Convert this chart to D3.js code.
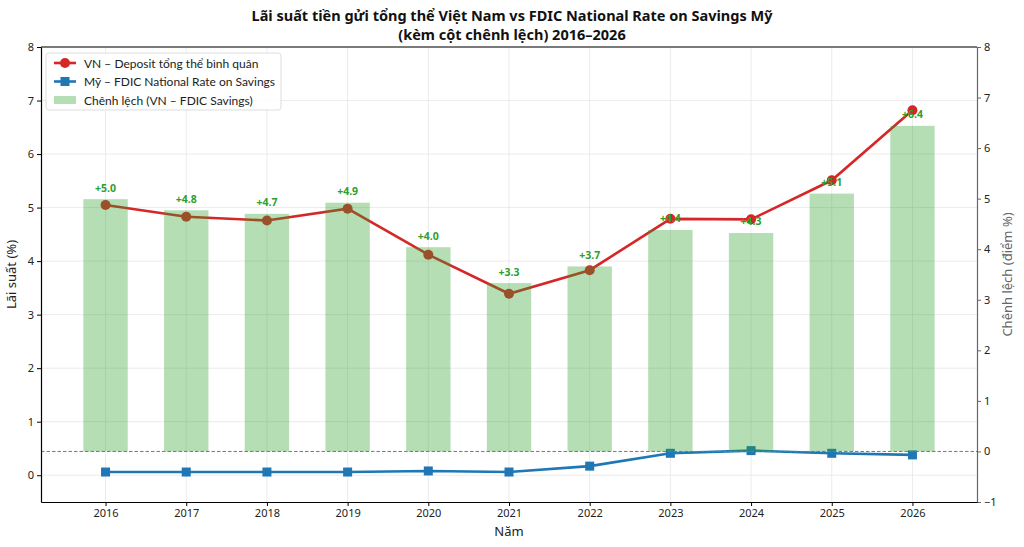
<!DOCTYPE html>
<html>
<head>
  <meta charset="UTF-8">
  <title>Lãi suất tiền gửi VN vs FDIC</title>
  <script src="https://d3js.org/d3.v7.min.js"></script>
  <style>
    body { margin: 0; background: #fff; }
    text { font-family: "Noto Sans", sans-serif; }
  </style>
</head>
<body>
  <div id="chart"></div>

  <script>
    const years = [2016, 2017, 2018, 2019, 2020, 2021, 2022, 2023, 2024, 2025, 2026];
    const vnRate = [5.05, 4.83, 4.76, 4.98, 4.12, 3.39, 3.83, 4.79, 4.78, 5.51, 6.82];
    const usRate = [0.06, 0.06, 0.06, 0.06, 0.08, 0.06, 0.17, 0.41, 0.46, 0.41, 0.38];
    const spread = [4.99, 4.77, 4.70, 4.92, 4.04, 3.33, 3.66, 4.38, 4.32, 5.10, 6.44];
    const leftTicks = [0, 1, 2, 3, 4, 5, 6, 7, 8];
    const rightTicks = [-1, 0, 1, 2, 3, 4, 5, 6, 7, 8];

    const W = 1024, H = 547;
    const margin = { top: 47, right: 47, bottom: 45, left: 41 };
    const width = W - margin.left - margin.right;
    const height = H - margin.top - margin.bottom;

    const svg = d3.select("#chart")
      .append("svg")
      .attr("width", W)
      .attr("height", H);

    const g = svg.append("g")
      .attr("transform", "translate(" + margin.left + "," + margin.top + ")");

    const x = d3.scaleLinear()
      .domain([2015.2, 2026.8])
      .range([0, width]);

    const y = d3.scaleLinear()
      .domain([-0.5, 8])
      .range([height, 0]);

    const y2 = d3.scaleLinear()
      .domain([-1, 8])
      .range([height, 0]);

    // grid
    g.append("g")
      .selectAll("line")
      .data(years)
      .join("line")
      .attr("x1", d => x(d)).attr("x2", d => x(d))
      .attr("y1", 0).attr("y2", height)
      .attr("stroke", "#e6e6e6").attr("stroke-width", 0.8);

    g.append("g")
      .selectAll("line")
      .data(leftTicks)
      .join("line")
      .attr("x1", 0).attr("x2", width)
      .attr("y1", d => y(d)).attr("y2", d => y(d))
      .attr("stroke", "#e6e6e6").attr("stroke-width", 0.8);

    // VN line
    const line = d3.line().x((d, i) => x(years[i])).y(d => y(d));
    g.append("path")
      .datum(vnRate)
      .attr("d", line)
      .attr("fill", "none")
      .attr("stroke", "#d62728")
      .attr("stroke-width", 2.6);

    g.selectAll(".vn-dot")
      .data(vnRate)
      .join("circle")
      .attr("class", "vn-dot")
      .attr("cx", (d, i) => x(years[i]))
      .attr("cy", d => y(d))
      .attr("r", 5)
      .attr("fill", "#d62728");

    // US line
    g.append("path")
      .datum(usRate)
      .attr("d", line)
      .attr("fill", "none")
      .attr("stroke", "#1f77b4")
      .attr("stroke-width", 2.6);

    g.selectAll(".us-dot")
      .data(usRate)
      .join("rect")
      .attr("class", "us-dot")
      .attr("x", (d, i) => x(years[i]) - 4.5)
      .attr("y", d => y(d) - 4.5)
      .attr("width", 9)
      .attr("height", 9)
      .attr("fill", "#1f77b4");

    // spread bars (drawn on top, semi-transparent)
    const barW = x(2016.55) - x(2016);
    g.selectAll(".bar")
      .data(spread)
      .join("rect")
      .attr("class", "bar")
      .attr("x", (d, i) => x(years[i]) - barW / 2)
      .attr("y", d => y2(d))
      .attr("width", barW)
      .attr("height", d => y2(0) - y2(d))
      .attr("fill", "#2ca02c")
      .attr("fill-opacity", 0.35);

    g.selectAll(".bar-label")
      .data(spread)
      .join("text")
      .attr("class", "bar-label")
      .attr("x", (d, i) => x(years[i]))
      .attr("y", d => y2(d + 0.15))
      .attr("text-anchor", "middle")
      .style("font-size", "10.5px")
      .style("font-weight", "bold")
      .attr("fill", "#2ca02c")
      .text(d => "+" + d.toFixed(1));

    g.append("line")
      .attr("x1", 0).attr("x2", width)
      .attr("y1", y2(0)).attr("y2", y2(0))
      .attr("stroke", "#777")
      .attr("stroke-width", 1)
      .attr("stroke-dasharray", "3.5,2");

    // axes
    const axL = g.append("g")
      .call(d3.axisLeft(y).tickValues(leftTicks).tickFormat(d3.format("d")).tickSize(4).tickSizeOuter(0));
    const axR = g.append("g")
      .attr("transform", "translate(" + width + ",0)")
      .call(d3.axisRight(y2).tickValues(rightTicks).tickFormat(d => d < 0 ? "\u2212" + Math.abs(d) : d).tickSize(4).tickSizeOuter(0));
    const axB = g.append("g")
      .attr("transform", "translate(0," + height + ")")
      .call(d3.axisBottom(x).tickValues(years).tickFormat(d3.format("d")).tickSize(4).tickSizeOuter(0));
    g.append("line")
      .attr("x1", 0).attr("x2", width)
      .attr("y1", 0).attr("y2", 0)
      .attr("stroke", "#000");

    [axL, axB].forEach(a => {
      a.selectAll("text").style("font-size", "11px").attr("fill", "#222");
      a.select(".domain").attr("stroke", "#000").attr("stroke-width", 1.2);
    });
    axR.selectAll("text").style("font-size", "11px").attr("fill", "#222");
    axR.select(".domain").attr("stroke", "#666").attr("stroke-width", 1.2);
    axR.selectAll(".tick line").attr("stroke", "#666");

    // axis titles
    svg.append("text")
      .attr("transform", "translate(16," + (margin.top + height / 2) + ") rotate(-90)")
      .attr("text-anchor", "middle")
      .style("font-size", "13px")
      .attr("fill", "#222")
      .text("Lãi suất (%)");

    svg.append("text")
      .attr("transform", "translate(1012," + (margin.top + height / 2) + ") rotate(-90)")
      .attr("text-anchor", "middle")
      .style("font-size", "13px")
      .attr("fill", "#666")
      .text("Chênh lệch (điểm %)");

    svg.append("text")
      .attr("x", margin.left + width / 2)
      .attr("y", 536)
      .attr("text-anchor", "middle")
      .style("font-size", "13px")
      .attr("fill", "#222")
      .text("Năm");

    // title
    const title = svg.append("text")
      .attr("text-anchor", "middle")
      .style("font-size", "14.5px")
      .style("font-weight", "bold")
      .attr("fill", "#111");
    title.append("tspan").attr("x", 512).attr("y", 21)
      .text("Lãi suất tiền gửi tổng thể Việt Nam vs FDIC National Rate on Savings Mỹ");
    title.append("tspan").attr("x", 512).attr("y", 40)
      .text("(kèm cột chênh lệch) 2016–2026");

    // legend
    const lg = g.append("g").attr("transform", "translate(5,6)");
    const box = lg.append("rect")
      .attr("height", 57)
      .attr("rx", 3)
      .attr("fill", "#fff").attr("fill-opacity", 0.85)
      .attr("stroke", "#ddd");
    const items = [
      { label: "VN – Deposit tổng thể bình quân", kind: "circle", color: "#d62728" },
      { label: "Mỹ – FDIC National Rate on Savings", kind: "square", color: "#1f77b4" },
      { label: "Chênh lệch (VN – FDIC Savings)", kind: "bar", color: "#2ca02c" }
    ];
    let maxW = 0;
    items.forEach((it, i) => {
      const row = lg.append("g").attr("transform", "translate(8," + (10 + i * 18.5) + ")");
      if (it.kind === "bar") {
        row.append("rect").attr("x", 0).attr("y", -4).attr("width", 22).attr("height", 8)
          .attr("fill", it.color).attr("fill-opacity", 0.35);
      } else {
        row.append("line").attr("x1", 0).attr("x2", 22).attr("y1", 0).attr("y2", 0)
          .attr("stroke", it.color).attr("stroke-width", 2.6);
        if (it.kind === "circle") {
          row.append("circle").attr("cx", 11).attr("cy", 0).attr("r", 5).attr("fill", it.color);
        } else {
          row.append("rect").attr("x", 6.5).attr("y", -4.5).attr("width", 9).attr("height", 9).attr("fill", it.color);
        }
      }
      const t = row.append("text")
        .attr("x", 30).attr("y", 4.5)
        .style("font-family", "Lato, sans-serif")
        .style("font-size", "12px")
        .attr("fill", "#222")
        .text(it.label);
      maxW = Math.max(maxW, t.node().getComputedTextLength());
    });
    box.attr("width", 8 + 30 + maxW + 6);
  </script>
</body>
</html>
